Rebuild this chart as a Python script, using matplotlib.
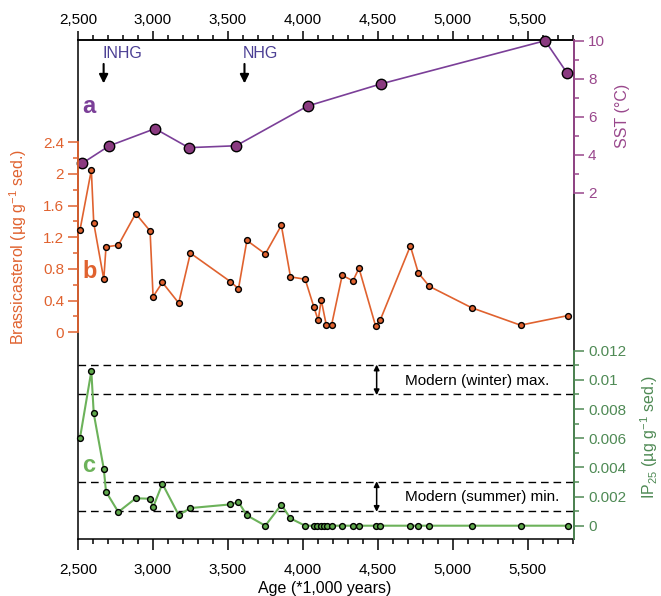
import matplotlib
matplotlib.use('Agg')
import matplotlib.pyplot as plt
from matplotlib.ticker import MultipleLocator, FixedLocator, FuncFormatter
import matplotlib.transforms as mtransforms

plt.rcParams['font.family'] = ['Liberation Sans', 'DejaVu Sans']
plt.rcParams['mathtext.default'] = 'regular'

# ---------------- data ----------------
sst_age = [2529, 2707, 3014, 3239, 3555, 4032, 4519, 5617, 5762]
sst_val = [3.55, 4.46, 5.37, 4.37, 4.47, 6.56, 7.72, 10.0, 8.32]

bra_age = [2513, 2589, 2605, 2672, 2687, 2769, 2885, 2981, 3001, 3063, 3172, 3250,
           3517, 3571, 3627, 3750, 3857, 3918, 4016, 4074, 4103, 4123, 4157, 4192,
           4263, 4335, 4375, 4486, 4517, 4718, 4771, 4845, 5127, 5453, 5767]
bra_val = [1.29, 2.05, 1.38, 0.67, 1.08, 1.10, 1.50, 1.28, 0.45, 0.63, 0.37, 1.00,
           0.64, 0.55, 1.16, 0.99, 1.35, 0.70, 0.67, 0.32, 0.15, 0.41, 0.09, 0.09,
           0.72, 0.65, 0.81, 0.08, 0.155, 1.09, 0.75, 0.58, 0.31, 0.09, 0.21]

ip_age = [2513, 2589, 2605, 2672, 2687, 2769, 2885, 2981, 3001, 3063, 3172, 3250,
          3517, 3571, 3627, 3750, 3857, 3918, 4016, 4074, 4094, 4119, 4141, 4165,
          4192, 4263, 4335, 4375, 4486, 4517, 4718, 4771, 4845, 5127, 5453, 5767]
ip_val = [0.0060, 0.0106, 0.0077, 0.0039, 0.00233, 0.00094, 0.00188, 0.00185, 0.00126,
          0.00288, 0.00073, 0.00121, 0.00146, 0.00162, 0.00071, 0.0, 0.00144, 0.0005,
          0.0, 0.0, 0.0, 0.0, 0.0, 0.0, 0.0, 0.0, 0.0, 0.0, 0.0, 0.0, 0.0, 0.0, 0.0,
          0.0, 0.0, 0.0]

modern_lines = [0.011, 0.009, 0.003, 0.001]
event_age = [2671, 3611]
event_lab = ['INHG', 'NHG']

x_ticks = [2500, 3000, 3500, 4000, 4500, 5000, 5500]
sst_ticks = [2, 4, 6, 8, 10]
bra_ticks = [0, 0.4, 0.8, 1.2, 1.6, 2.0, 2.4]
ip_ticks = [0, 0.002, 0.004, 0.006, 0.008, 0.010, 0.012]

# ---------------- styling ----------------
PURPLE_L = '#7B3F98'
PURPLE_M = '#8A3A80'
PURPLE_T = '#99478C'
ORANGE = '#E0622F'
GREEN_L = '#6CB25A'
GREEN_M = '#5FA84C'
GREEN_T = '#4F8A55'
BLUE_T = '#4B3F94'
FS = 11

W, H = 661, 596
fig = plt.figure(figsize=(W / 100, H / 100), dpi=100)
L, R, BOT, TOP = 78 / W, 574 / W, 1 - 539 / H, 1 - 40 / H
ax = fig.add_axes([L, BOT, R - L, TOP - BOT])
ax.set_xlim(2500, 5810)
ax.set_ylim(0, 1)
ax.set_yticks([])
for s in ax.spines.values():
    s.set_linewidth(1.1)
    s.set_color('black')
xfmt = FuncFormatter(lambda v, p: f'{int(v):,}')
ax.xaxis.set_major_locator(FixedLocator(x_ticks))
ax.xaxis.set_minor_locator(MultipleLocator(100))
ax.xaxis.set_major_formatter(xfmt)
ax.tick_params(axis='x', which='both', top=False, labeltop=False, bottom=True,
               labelbottom=True, direction='out', labelsize=FS, width=1.1)
ax.tick_params(axis='x', which='major', length=8, pad=9)
ax.tick_params(axis='x', which='minor', length=3.5)

secx = ax.secondary_xaxis('top')
secx.xaxis.set_major_locator(FixedLocator(x_ticks))
secx.xaxis.set_minor_locator(MultipleLocator(100))
secx.xaxis.set_major_formatter(xfmt)
secx.spines['top'].set_linewidth(1.1)
secx.tick_params(axis='x', which='both', direction='out', labelsize=FS, width=1.1)
secx.tick_params(axis='x', which='major', length=6.5, pad=3)
secx.tick_params(axis='x', which='minor', length=3.5)


def make_twin(side, color, tcolor, ylim, bounds, major, minor):
    t = ax.twinx()
    t.set_ylim(*ylim)
    for s in t.spines.values():
        s.set_visible(False)
    sp = t.spines[side]
    sp.set_visible(True)
    sp.set_color(color)
    sp.set_linewidth(1.3)
    sp.set_bounds(*bounds)
    if side == 'left':
        t.yaxis.tick_left()
    else:
        t.yaxis.tick_right()
    t.yaxis.set_major_locator(FixedLocator(major))
    t.yaxis.set_minor_locator(FixedLocator(minor))
    t.yaxis.set_major_formatter(FuncFormatter(lambda v, p: f'{v:g}'))
    t.tick_params(axis='y', which='both', colors=color, labelcolor=tcolor,
                  direction='out', labelsize=FS, width=1.1)
    t.tick_params(axis='y', which='major', length=7, pad=3)
    t.tick_params(axis='y', which='minor', length=3.5)
    return t


ax_sst = make_twin('right', PURPLE_T, PURPLE_T, (-16.23, 10.037), (2, 10.037),
                   sst_ticks, [3, 5, 7, 9])
ax_bra = make_twin('left', ORANGE, ORANGE, (-2.611, 3.692), (0, 2.4),
                   bra_ticks, [0.2, 0.6, 1.0, 1.4, 1.8, 2.2])
ax_ip = make_twin('right', GREEN_T, GREEN_T, (-0.000912, 0.033306), (-0.000912, 0.012),
                  ip_ticks, [0.001, 0.003, 0.005, 0.007, 0.009, 0.011])

# series
ax_bra.plot(bra_age, bra_val, color=ORANGE, lw=1.2, marker='o', ms=4.2,
            mfc=ORANGE, mec='black', mew=1.0, clip_on=False, zorder=3)
ax_ip.plot(ip_age, ip_val, color=GREEN_L, lw=1.5, marker='o', ms=4.2,
           mfc=GREEN_M, mec='black', mew=1.0, clip_on=False, zorder=3)
ax_sst.plot(sst_age, sst_val, color=PURPLE_L, lw=1.2, marker='o', ms=7.5,
            mfc=PURPLE_M, mec='black', mew=1.0, clip_on=False, zorder=4)

# modern reference lines
for v in modern_lines:
    ax_ip.axhline(v, color='black', lw=1.0, dashes=(5.5, 3.5), zorder=1)
ax_ip.annotate('', xy=(4493, 0.00895), xytext=(4493, 0.01105),
               arrowprops=dict(arrowstyle='<|-|>', color='black', lw=1.1,
                               mutation_scale=8, shrinkA=0, shrinkB=0))
ax_ip.annotate('', xy=(4493, 0.00095), xytext=(4493, 0.00305),
               arrowprops=dict(arrowstyle='<|-|>', color='black', lw=1.1,
                               mutation_scale=8, shrinkA=0, shrinkB=0))
ax_ip.text(4682, 0.00994, 'Modern (winter) max.', fontsize=FS, va='center', ha='left')
ax_ip.text(4682, 0.00195, 'Modern (summer) min.', fontsize=FS, va='center', ha='left')

# event arrows
trans = mtransforms.blended_transform_factory(ax.transData, ax.transAxes)
for a, lab in zip(event_age, event_lab):
    ax.annotate('', xy=(a, 0.913), xytext=(a, 0.952), xycoords=trans, textcoords=trans,
                arrowprops=dict(arrowstyle='-|>', color='black', lw=1.5,
                                mutation_scale=13, shrinkA=0, shrinkB=0))
    ax.text(a - 10, 0.972, lab, transform=trans, color=BLUE_T, fontsize=11.5,
            ha='left', va='center')

# panel letters
def ftext(x, y, s, **kw):
    fig.text(x / W, 1 - y / H, s, **kw)

ftext(82.5, 113, 'a', color=PURPLE_L, fontsize=17, fontweight='bold', va='baseline')
ftext(82.5, 278, 'b', color=ORANGE, fontsize=17, fontweight='bold', va='baseline')
ftext(82.5, 471.5, 'c', color=GREEN_L, fontsize=17, fontweight='bold', va='baseline')

# axis labels
ftext(18.5, 247, 'Brassicasterol (µg g$^{-1}$ sed.)', color=ORANGE, fontsize=11.5,
      rotation=90, ha='center', va='center')
ftext(622, 116, 'SST (°C)', color=PURPLE_T, fontsize=11.5, rotation=90,
      ha='center', va='center')
ftext(649, 437, 'IP$_{25}$ (µg g$^{-1}$ sed.)', color=GREEN_T, fontsize=11.5,
      rotation=90, ha='center', va='center')
ftext(325, 588, 'Age (*1,000 years)', fontsize=11.5, ha='center', va='center')

fig.savefig('out.png', dpi=100)
